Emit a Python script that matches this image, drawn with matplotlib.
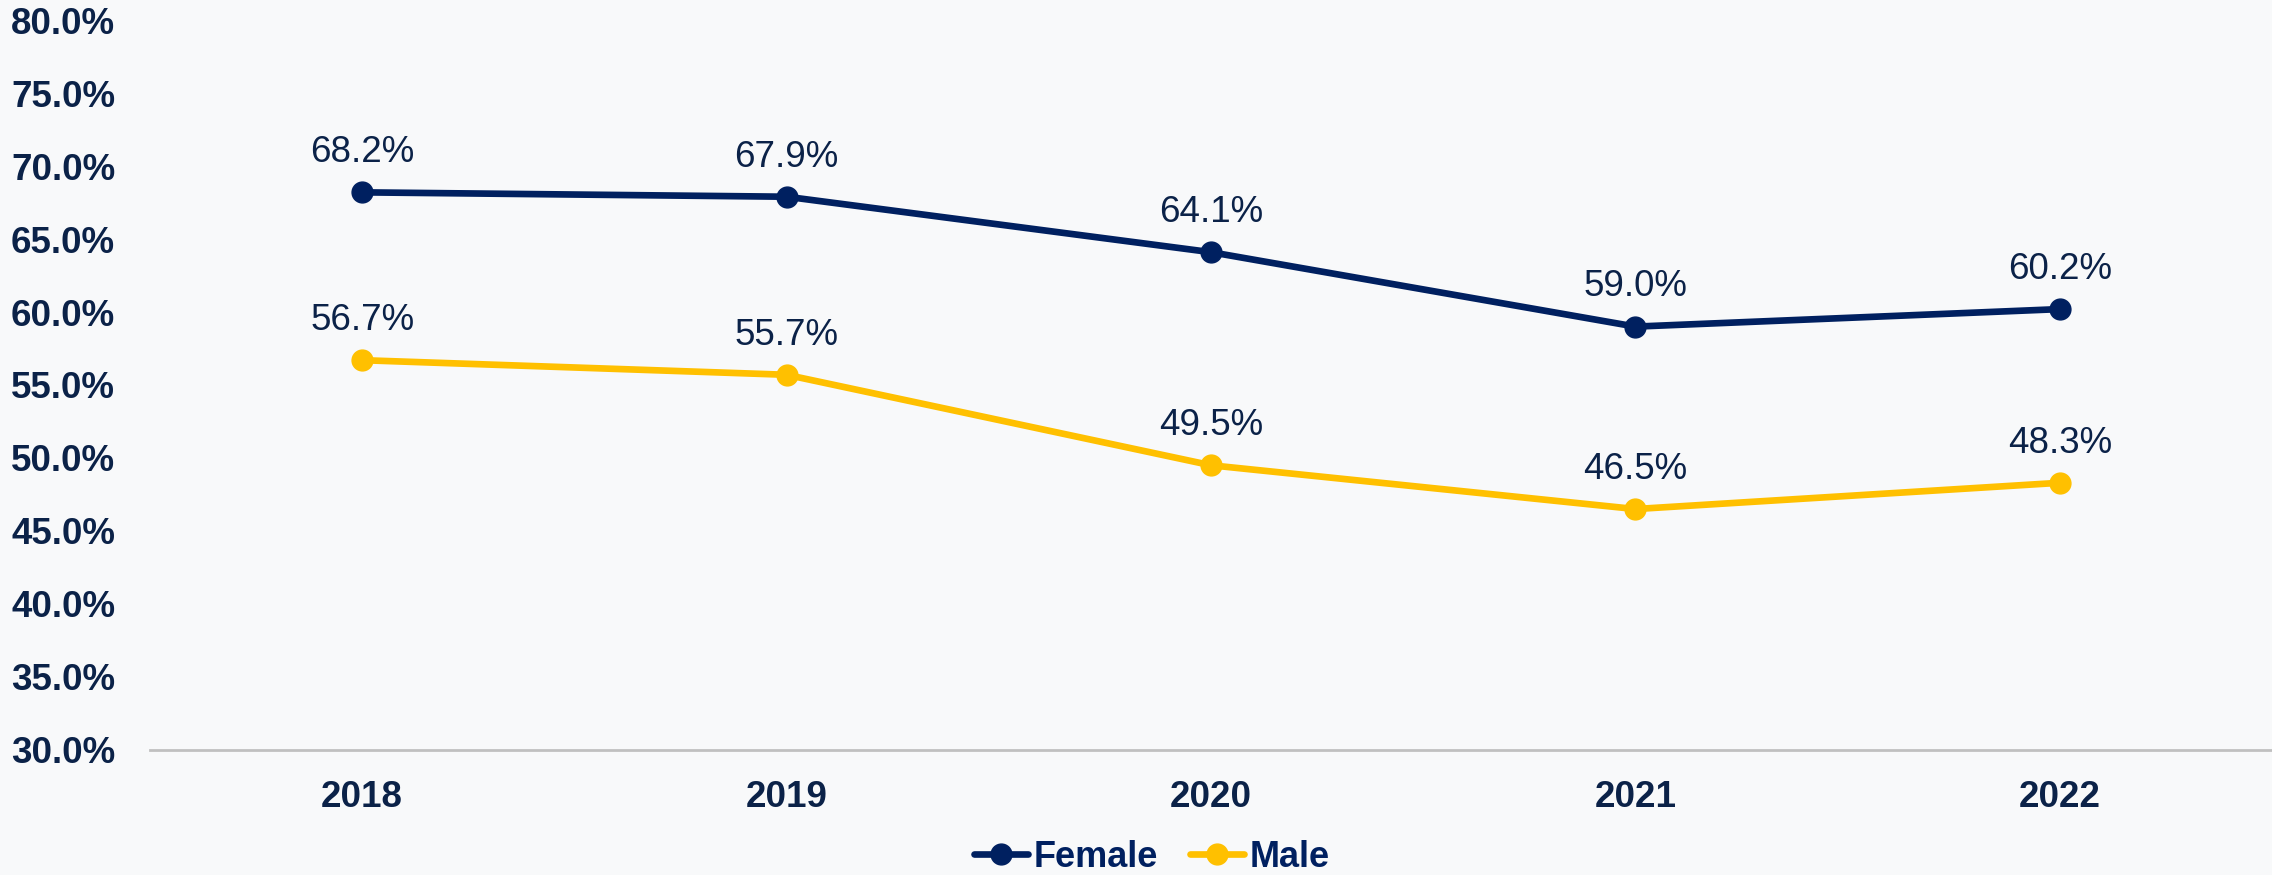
"""
Line chart: share by gender, 2018-2022.

Outputs: out.png
"""

import matplotlib.pyplot as plt
from matplotlib.ticker import FuncFormatter

plt.rcParams["font.family"] = ["Liberation Sans", "DejaVu Sans"]

# ── Data ────────────────────────────────────────────────────────────────
years = ["2018", "2019", "2020", "2021", "2022"]
female = [68.2, 67.9, 64.1, 59.0, 60.2]
male = [56.7, 55.7, 49.5, 46.5, 48.3]
y_ticks = [30, 35, 40, 45, 50, 55, 60, 65, 70, 75, 80]

NAVY = "#002060"
GOLD = "#FFC000"
TEXT = "#0b2248"
BG = "#f8f9fa"


def plot():
    fig = plt.figure(figsize=(22.72, 8.75), dpi=100, facecolor=BG)
    ax = fig.add_axes([0.066, 0.143, 0.934, 0.834])
    ax.set_facecolor(BG)

    x = list(range(len(years)))
    for vals, color, name in [(female, NAVY, "Female"), (male, GOLD, "Male")]:
        ax.plot(x, vals, color=color, lw=4.8, marker="o", markersize=15,
                label=name, solid_capstyle="round", zorder=3)
        for xi, v in zip(x, vals):
            ax.annotate(f"{v:.1f}%", xy=(xi, v), xytext=(0, 16),
                        textcoords="offset points", ha="center", va="bottom",
                        fontsize=26.5, color=TEXT)

    ax.set_xlim(-0.5, len(years) - 0.5)
    ax.set_ylim(30, 80)
    ax.set_xticks(x)
    ax.set_xticklabels(years)
    ax.set_yticks(y_ticks)
    ax.yaxis.set_major_formatter(FuncFormatter(lambda v, _: f"{v:.1f}%"))

    for lbl in ax.get_xticklabels() + ax.get_yticklabels():
        lbl.set_fontweight("bold")
        lbl.set_color(TEXT)
    ax.tick_params(axis="both", length=0, labelsize=26.5)
    ax.tick_params(axis="x", pad=22)
    ax.tick_params(axis="y", pad=25)

    for side in ["top", "right", "left"]:
        ax.spines[side].set_visible(False)
    ax.spines["bottom"].set_color("#c0c0c0")
    ax.spines["bottom"].set_linewidth(2)

    leg = fig.legend(loc="center", bbox_to_anchor=(0.507, 0.02), ncol=2,
                     frameon=False, handlelength=1.5,
                     handletextpad=0.15, columnspacing=0.9,
                     prop={"weight": "bold", "size": 26})
    for t in leg.get_texts():
        t.set_color(NAVY)

    fig.savefig("out.png", dpi=100, facecolor=BG)
    return fig


if __name__ == "__main__":
    plot()
